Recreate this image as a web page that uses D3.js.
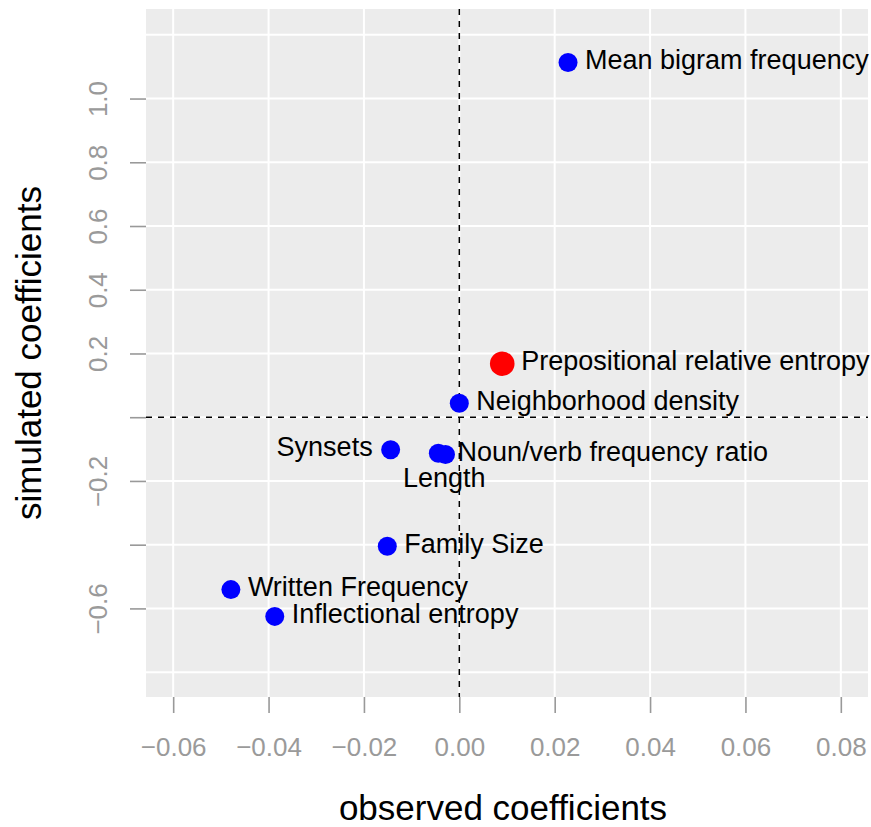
<!DOCTYPE html>
<html>
<head>
<meta charset="utf-8">
<script src="https://cdn.jsdelivr.net/npm/d3@7"></script>
<style>
  body { margin: 0; background: #fff; }
  svg text { font-family: "Liberation Sans", Arial, Helvetica, sans-serif; }
</style>
</head>
<body>
<div id="chart"></div>
<script>
// predictor names and their coefficients
var labels = ["Mean bigram frequency", "Prepositional relative entropy", "Neighborhood density",
              "Synsets", "Length", "Noun/verb frequency ratio", "Family Size",
              "Written Frequency", "Inflectional entropy"];
var observed = [0.0228, 0.0090, 0.0000, -0.0144, -0.0044, -0.0029, -0.0151, -0.0479, -0.0387];
var simulated = [1.113, 0.168, 0.044, -0.102, -0.113, -0.117, -0.405, -0.541, -0.625];
var highlight = [false, true, false, false, false, false, false, false, false];
var labelSide = ["right", "right", "right", "left", "below", "right", "right", "right", "right"];

var xTicks = [-0.06, -0.04, -0.02, 0.00, 0.02, 0.04, 0.06, 0.08];
var yTicks = [-0.6, -0.4, -0.2, 0.0, 0.2, 0.4, 0.6, 0.8, 1.0];
var yTickLabels = ["\u22120.6", "", "\u22120.2", "", "0.2", "0.4", "0.6", "0.8", "1.0"];
var yGrid = [-0.8, -0.6, -0.4, -0.2, 0.0, 0.2, 0.4, 0.6, 0.8, 1.0, 1.2];

var data = labels.map(function(d, i) {
    return { name: d, x: observed[i], y: simulated[i], hi: highlight[i], side: labelSide[i] };
});

var width = 871, height = 827;
var pLeft = 146, pRight = 868, pTop = 9, pBottom = 697;

var svg = d3.select("#chart").append("svg")
    .attr("width", width)
    .attr("height", height);

var x = d3.scaleLinear().domain([-0.0657, 0.0857]).range([pLeft, pRight]);
var y = d3.scaleLinear().domain([-0.878, 1.281]).range([pBottom, pTop]);

// panel
svg.append("rect")
    .attr("x", pLeft).attr("y", pTop)
    .attr("width", pRight - pLeft).attr("height", pBottom - pTop)
    .attr("fill", "#ececec");

// grid
svg.selectAll(".vgrid").data(xTicks).enter().append("line")
    .attr("x1", d => x(d)).attr("x2", d => x(d))
    .attr("y1", pTop).attr("y2", pBottom)
    .attr("stroke", "#fff").attr("stroke-width", 2);
svg.selectAll(".hgrid").data(yGrid).enter().append("line")
    .attr("y1", d => y(d)).attr("y2", d => y(d))
    .attr("x1", pLeft).attr("x2", pRight)
    .attr("stroke", "#fff").attr("stroke-width", 2);

// axes
var xAxis = svg.append("g")
    .attr("transform", "translate(0," + pBottom + ")")
    .call(d3.axisBottom(x).tickValues(xTicks).tickSize(16)
        .tickFormat(d => d3.format(".2f")(d).replace("-", "\u2212")));
var yAxis = svg.append("g")
    .attr("transform", "translate(" + pLeft + ",0)")
    .call(d3.axisLeft(y).tickValues(yTicks).tickSize(16)
        .tickFormat((d, i) => yTickLabels[i]));

[xAxis, yAxis].forEach(function(g) {
    g.select(".domain").remove();
    g.selectAll(".tick line").attr("stroke", "#999").attr("stroke-width", 1.6);
    g.selectAll(".tick text").attr("fill", "#9a9a9a").style("font-size", "26px");
});
xAxis.selectAll(".tick text").attr("dy", 0).attr("y", 59);
yAxis.selectAll(".tick text")
    .attr("x", 0).attr("dy", 0)
    .attr("text-anchor", "middle")
    .attr("transform", "translate(-39,0) rotate(-90)");

// reference lines at zero
svg.append("line")
    .attr("x1", x(0)).attr("x2", x(0)).attr("y1", pTop).attr("y2", pBottom)
    .attr("stroke", "#000").attr("stroke-width", 1.5).attr("stroke-dasharray", "6,6");
svg.append("line")
    .attr("y1", y(0)).attr("y2", y(0)).attr("x1", pLeft).attr("x2", pRight)
    .attr("stroke", "#000").attr("stroke-width", 1.5).attr("stroke-dasharray", "6,6");

// points
svg.selectAll(".pt").data(data).enter().append("circle")
    .attr("cx", d => x(d.x)).attr("cy", d => y(d.y))
    .attr("r", d => d.hi ? 12.3 : 9.5)
    .attr("fill", d => d.hi ? "#ff0000" : "#0000ff");

// labels
svg.selectAll(".lab").data(data).enter().append("text")
    .attr("x", function(d) {
        if (d.side == "left") return x(d.x) - 18;
        if (d.side == "below") return x(d.x) + 6;
        return x(d.x) + (d.hi ? 19 : (d.name.indexOf("Noun") == 0 ? 12 : 17));
    })
    .attr("y", d => d.side == "below" ? y(d.y) + 34 : y(d.y) + 6.5)
    .attr("text-anchor", d => d.side == "left" ? "end" : (d.side == "below" ? "middle" : "start"))
    .style("font-size", "27px")
    .attr("fill", "#000")
    .text(d => d.name);

// axis titles
svg.append("text")
    .attr("x", 503).attr("y", 820)
    .attr("text-anchor", "middle")
    .style("font-size", "35px")
    .text("observed coefficients");
svg.append("text")
    .attr("transform", "translate(41," + (pTop + pBottom) / 2 + ") rotate(-90)")
    .attr("text-anchor", "middle")
    .style("font-size", "35px")
    .text("simulated coefficients");
</script>
</body>
</html>
